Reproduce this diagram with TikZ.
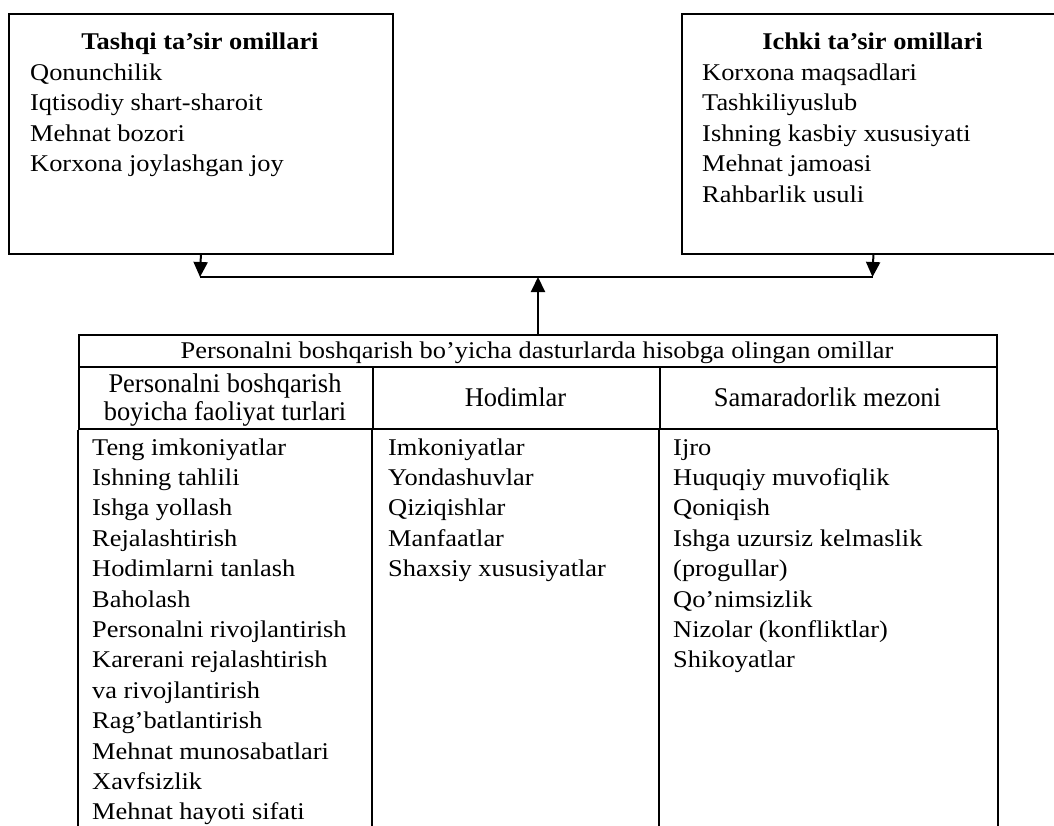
\documentclass[tikz,border=0pt]{standalone}
\usepackage{fontspec}
\setmainfont{Liberation Serif}
\newfontfamily\bodyfont{Liberation Serif}[FakeStretch=1.1]
\newfontfamily\rowfont{Liberation Serif}[FakeStretch=0.98]
\usetikzlibrary{arrows.meta}
\begin{document}
\begin{tikzpicture}[x=1pt,y=-1pt,
  box/.style={draw, line width=1.8pt, inner sep=0pt},
  cell/.style={draw, line width=2pt, inner sep=0pt},
  txt/.style={inner sep=0pt, font=\bodyfont\fontsize{24}{30}\selectfont},
  ttl/.style={inner sep=0pt, font=\bodyfont\bfseries\fontsize{24}{30}\selectfont},
  rowtxt/.style={inner sep=0pt, font=\rowfont\fontsize{27}{30}\selectfont},
  arr/.style={line width=2pt, -{Triangle[length=15pt,width=14pt]}},
  thin/.style={line width=1.3pt}]
\useasboundingbox (0,0) rectangle (1054,826);
% top boxes
\node[box, anchor=north west, minimum width=384pt, minimum height=240pt] (ext) at (8,13) {};
\node[box, anchor=north west, minimum width=383pt, minimum height=240pt] (int) at (681,13) {};
\node[ttl, anchor=base] (extT) at (200,50) {Tashqi ta’sir omillari};
\node[ttl, anchor=base] (intT) at (872.5,50) {Ichki ta’sir omillari};
\foreach \itm [count=\i] in {Qonunchilik, Iqtisodiy shart-sharoit, Mehnat bozori, Korxona joylashgan joy}
  \node[txt, anchor=base west] (ext\i) at (30,{80.5+30.5*(\i-1)}) {\itm};
\foreach \itm [count=\i] in {Korxona maqsadlari, Tashkiliyuslub, Ishning kasbiy xususiyati, Mehnat jamoasi, Rahbarlik usuli}
  \node[txt, anchor=base west] (int\i) at (702,{80.5+30.5*(\i-1)}) {\itm};
% table
\node[cell, anchor=north west, minimum width=918pt, minimum height=32pt] (hdr) at (78,334) {};
\node[txt, anchor=base] (hdrT) at (537,358) {Personalni boshqarish bo’yicha dasturlarda hisobga olingan omillar};
\node[cell, anchor=north west, minimum width=294pt, minimum height=62pt] (c1) at (78,366) {};
\node[cell, anchor=north west, minimum width=287pt, minimum height=62pt] (c2) at (372,366) {};
\node[cell, anchor=north west, minimum width=337pt, minimum height=62pt] (c3) at (659,366) {};
\node[rowtxt, anchor=base] (c1a) at (225,392) {Personalni boshqarish};
\node[rowtxt, anchor=base] (c1b) at (225,420) {boyicha faoliyat turlari};
\node[rowtxt, anchor=base] (c2T) at (515.5,406) {Hodimlar};
\node[rowtxt, anchor=base] (c3T) at (827.5,406) {Samaradorlik mezoni};
\coordinate (bot) at (0,826);
\draw[line width=2pt] (c1.south west) -- (c1.south west |- bot);
\draw[line width=2pt] (c2.south west) -- (c2.south west |- bot);
\draw[line width=2pt] (c3.south west) -- (c3.south west |- bot);
\draw[line width=2pt] (c3.south east) -- (c3.south east |- bot);
\foreach \itm [count=\i] in {Teng imkoniyatlar, Ishning tahlili, Ishga yollash, Rejalashtirish, Hodimlarni tanlash, Baholash, Personalni rivojlantirish, Karerani rejalashtirish, va rivojlantirish, Rag’batlantirish, Mehnat munosabatlari, Xavfsizlik, Mehnat hayoti sifati}
  \node[txt, anchor=base west] (a\i) at (92,{455+30.4*(\i-1)}) {\itm};
\foreach \itm [count=\i] in {Imkoniyatlar, Yondashuvlar, Qiziqishlar, Manfaatlar, Shaxsiy xususiyatlar}
  \node[txt, anchor=base west] (b\i) at (388,{455+30.4*(\i-1)}) {\itm};
\foreach \itm [count=\i] in {Ijro, Huquqiy muvofiqlik, Qoniqish, Ishga uzursiz kelmaslik, (progullar), Qo’nimsizlik, Nizolar (konfliktlar), Shikoyatlar}
  \node[txt, anchor=base west] (d\i) at (673,{455+30.4*(\i-1)}) {\itm};
% connectors
\coordinate (jL) at (200,277);
\coordinate (jR) at (872.5,277);
\draw[arr] (ext.south) -- (jL);
\draw[arr] (int.south) -- (jR);
\draw[thin] (jL) -- (jR);
\draw[arr] (hdr.north) -- (hdr.north |- jL);
\end{tikzpicture}
\end{document}
